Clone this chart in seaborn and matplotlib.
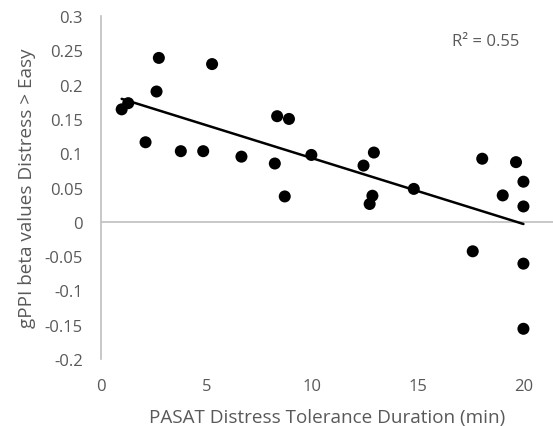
import matplotlib
matplotlib.use("Agg")
import matplotlib.pyplot as plt
import seaborn as sns
import pandas as pd

duration_min = [0.98, 1.29, 2.74, 2.63, 5.26, 2.11, 3.78, 4.84, 6.65, 8.23,
                8.34, 8.90, 8.70, 9.96, 12.92, 12.43, 12.85, 12.72, 14.81,
                18.05, 19.65, 20.0, 19.02, 20.0, 17.6, 20.0, 20.0]
gppi_beta = [0.164, 0.173, 0.239, 0.190, 0.230, 0.116, 0.103, 0.103, 0.095, 0.085,
             0.154, 0.150, 0.037, 0.0975, 0.101, 0.082, 0.038, 0.026, 0.048,
             0.092, 0.087, 0.0585, 0.0385, 0.0224, -0.043, -0.061, -0.156]
x_ticks = [0, 5, 10, 15, 20]
y_ticks = [-0.2, -0.15, -0.1, -0.05, 0, 0.05, 0.1, 0.15, 0.2, 0.25, 0.3]
y_tick_labels = ["-0.2", "-0.15", "-0.1", "-0.05", "0", "0.05", "0.1", "0.15", "0.2", "0.25", "0.3"]
r2_text = "R² = 0.55"

df = pd.DataFrame({"duration": duration_min, "beta": gppi_beta})

sns.set_style("white")
plt.rcParams["font.family"] = ["Open Sans", "DejaVu Sans"]
text_color = "#595959"
axis_color = "#bfbfbf"

fig = plt.figure(figsize=(5.53, 4.27), dpi=100)
ax = fig.add_axes([0.1826, 0.157, 1.0 - 0.1826, 0.803])

ax.axhline(0, color=axis_color, lw=1.2, zorder=1)
sns.regplot(data=df, x="duration", y="beta", ax=ax, ci=None, truncate=True,
            scatter_kws={"s": 75, "color": "black", "alpha": 1.0,
                         "edgecolor": "none", "zorder": 3},
            line_kws={"color": "black", "lw": 1.8, "zorder": 2})

ax.set_xlim(0, 21.4)
ax.set_ylim(-0.2, 0.3)
ax.set_xticks(x_ticks)
ax.set_xticklabels([str(t) for t in x_ticks])
ax.set_yticks(y_ticks)
ax.set_yticklabels(y_tick_labels)
ax.tick_params(axis="both", length=0, labelsize=12, colors=text_color)
ax.tick_params(axis="y", pad=13)
ax.tick_params(axis="x", pad=14)

for side in ["top", "right", "bottom"]:
    ax.spines[side].set_visible(False)
ax.spines["left"].set_color(axis_color)
ax.spines["left"].set_linewidth(1.2)

ax.set_xlabel("PASAT Distress Tolerance Duration (min)", fontsize=13.6, color=text_color, labelpad=10)
ax.set_ylabel("gPPI beta values Distress > Easy", fontsize=13.6, color=text_color, labelpad=6)

ax.text(18.2, 0.263, r2_text, fontsize=12, color=text_color, ha="center", va="center")

fig.savefig("out.png", dpi=100)
